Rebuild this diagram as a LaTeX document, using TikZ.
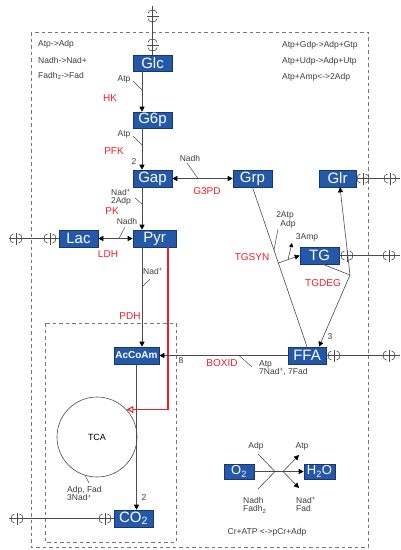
\documentclass[tikz,border=0pt]{standalone}
\usepackage{fontspec}
\setmainfont{Liberation Sans}
\usetikzlibrary{arrows.meta,calc}
\definecolor{boxblue}{RGB}{36,88,168}
\definecolor{boxedge}{RGB}{25,55,110}
\definecolor{lin}{RGB}{75,75,75}
\definecolor{redlab}{RGB}{240,30,45}
\definecolor{txt}{RGB}{60,60,60}
\definecolor{dash}{RGB}{120,120,120}
\begin{document}
\begin{tikzpicture}[x=1pt,y=-1pt,
  box/.style={draw=boxedge, line width=0.6pt, fill=boxblue, text=white, inner sep=0pt,
    minimum height=16pt, font=\fontsize{15}{15}\selectfont},
  sm/.style={text=txt, font=\fontsize{8.5}{8.5}\selectfont, inner sep=0pt},
  enz/.style={text=redlab, font=\fontsize{10}{10}\selectfont, inner sep=0pt},
  conn/.style={draw=lin, line width=0.6pt},
  endarrow/.style={conn, -{Triangle[length=5pt,width=5pt,black]}},
  botharrow/.style={conn, {Triangle[length=5pt,width=5pt,black]}-{Triangle[length=5pt,width=5pt,black]}},
  tick/.style={draw=lin, line width=0.5pt},
  redline/.style={draw=redlab, line width=1.1pt, -{Triangle[open,length=7pt,width=7pt,redlab,fill=white]}},
  dashbox/.style={draw=dash, line width=0.6pt, dash pattern=on 3.5pt off 3pt},
  exch/.pic={
    \draw[draw=lin, line width=0.6pt] (-2.5,-4.5) .. controls (-7,-4.5) and (-7,4.5) .. (-2.5,4.5);
    \draw[draw=lin, line width=0.6pt] (2.5,-4.5) .. controls (7,-4.5) and (7,4.5) .. (2.5,4.5);
    \draw[draw=lin, line width=0.6pt] (0,-6) -- (0,6);
  }
]
\useasboundingbox (0,0) rectangle (400,550);

% frames
\draw[dashbox] (31,32) rectangle (368,547);
\draw[dashbox] (45,323) rectangle (176,542);

% boxes
\node[box, minimum width=39pt] (glc) at (152.5,63) {Glc};
\node[box, minimum width=39pt] (g6p) at (152.5,120) {G6p};
\node[box, minimum width=39pt, minimum height=17pt] (gap) at (152.5,178.5) {Gap};
\node[box, minimum width=43pt, minimum height=17pt] (pyr) at (154.5,238.5) {Pyr};
\node[box, minimum width=39pt, minimum height=17pt] (lac) at (78.5,238.5) {Lac};
\node[box, minimum width=39pt, minimum height=17pt] (grp) at (252.5,178.5) {Grp};
\node[box, minimum width=37pt, minimum height=17pt] (glr) at (337.5,178.5) {Glr};
\node[box, minimum width=39pt, minimum height=17pt] (tg) at (319.5,255.5) {TG};
\node[box, minimum width=38pt, minimum height=17pt] (ffa) at (307,355.5) {FFA};
\node[box, minimum width=45pt, minimum height=17pt, font=\bfseries\fontsize{10}{10}\selectfont] (accoam) at (136.5,355.5) {AcCoAm};
\node[box, minimum width=39pt, minimum height=17pt] (co2) at (133.5,518.5) {CO\textsubscript{2}};
\node[box, minimum width=30pt, minimum height=15pt, font=\fontsize{13}{13}\selectfont] (o2) at (239,471.5) {O\textsubscript{2}};
\node[box, minimum width=31pt, minimum height=15pt, font=\fontsize{13}{13}\selectfont] (h2o) at (319.5,471.5) {H\textsubscript{2}O};

% corner texts
\node[sm, anchor=west] (tl1) at (38,44) {Atp->Adp};
\node[sm, anchor=west] (tl2) at (38,60) {Nadh->Nad+};
\node[sm, anchor=west] (tl3) at (38,76) {Fadh\textsubscript{2}->Fad};
\node[sm, anchor=west] (tr1) at (282,45) {Atp+Gdp->Adp+Gtp};
\node[sm, anchor=west] (tr2) at (282,61) {Atp+Udp->Adp+Utp};
\node[sm, anchor=west] (tr3) at (282,77) {Atp+Amp<->2Adp};

% exchanges
\coordinate (topend) at (152.5,6);
\draw[conn] (topend) -- (glc.north);
\pic[rotate=90] at (152.5,16) {exch};
\pic[rotate=90] at (152.5,45) {exch};

\coordinate (lacend) at (9,238.5);
\draw[conn] (lacend) -- (lac.west);
\pic at (16,238.5) {exch};
\pic at (50,238.5) {exch};

\coordinate (glrend) at (400,178.5);
\draw[conn] (glr.east) -- (glrend);
\pic at (363,178.5) {exch};
\pic at (390,178.5) {exch};

\coordinate (tgend) at (400,255.5);
\draw[conn] (tg.east) -- (tgend);
\pic at (347,255.5) {exch};
\pic at (389,255.5) {exch};

\coordinate (ffaend) at (400,355.5);
\draw[conn] (ffa.east) -- (ffaend);
\pic at (334,355.5) {exch};
\pic at (389,355.5) {exch};

\coordinate (co2end) at (9,518.5);
\draw[conn] (co2end) -- (co2.west);
\pic at (17,518.5) {exch};
\pic at (105,518.5) {exch};

% glycolysis
\coordinate (glcout) at ([xshift=-10.5pt]glc.south);
\draw[endarrow] (glcout) -- (glcout |- g6p.north);
\node[sm] (atp1) at (124,79) {Atp};
\coordinate (hkt) at (142,90);
\draw[tick] (133,81) -- (hkt);
\node[enz] (hk) at (110,98) {HK};

\coordinate (g6pout) at ([xshift=-10.5pt]g6p.south);
\draw[endarrow] (g6pout) -- (g6pout |- gap.north);
\node[sm] (atp2) at (124,134) {Atp};
\coordinate (pfkt) at (142,145);
\draw[tick] (133,136) -- (pfkt);
\node[enz] (pfk) at (114,151) {PFK};
\node[sm] (two1) at (134,162) {2};

\coordinate (gapout) at ([xshift=-10.5pt]gap.south);
\draw[endarrow] (gapout) -- (gapout |- pyr.north);
\node[sm, align=center] (pkin) at (121,197) {Nad\textsuperscript{+}\\[0pt]2Adp};
\coordinate (pkt) at (142,204);
\draw[tick] (135,198) -- (pkt);
\node[enz] (pk) at (112,211) {PK};

% G3PD
\draw[botharrow] (gap.east) -- (grp.west);
\node[sm] (nadh1) at (190,158) {Nadh};
\coordinate (g3t) at (198,178.5);
\draw[tick] (187,163) -- (g3t);
\node[enz] (g3pd) at (207,191) {G3PD};

% LDH
\draw[botharrow] (lac.east) -- (pyr.west);
\node[sm] (nadh2) at (127,221) {Nadh};
\coordinate (ldht) at (119,238.5);
\draw[tick] (125,227) -- (ldht);
\node[enz] (ldh) at (108,254) {LDH};

% PDH
\coordinate (pyrout) at ([xshift=-12.5pt]pyr.south);
\draw[endarrow] (pyrout) -- (pyrout |- accoam.north);
\node[sm] (nad3) at (153,271) {Nad\textsuperscript{+}};
\coordinate (pdht) at (142,287);
\draw[tick] (150,279) -- (pdht);
\node[enz] (pdh) at (130,316) {PDH};

% red PDH line to TCA
\node[draw=lin, line width=0.6pt, circle, minimum size=80pt, inner sep=0pt, font=\fontsize{9}{9}\selectfont] (tca) at (97,437) {TCA};
\draw[redline] ([xshift=13.5pt]pyr.south) |- (tca.43);
\coordinate (tcat) at (89,483);
\draw[tick] (tca.-107) -- (tcat);
\node[sm, align=left, anchor=north west] (tcaout) at (67,486) {Adp, Fad\\[0pt]3Nad\textsuperscript{+}};

% AcCoAm -> CO2
\draw[endarrow] (accoam.south) -- (accoam.south |- co2.north);
\node[sm] (two2) at (144,498) {2};

% BOXID
\draw[endarrow] (ffa.west) -- (accoam.east);
\node[sm] (eight) at (181,361) {8};
\node[enz] (boxid) at (222,363) {BOXID};
\coordinate (boxt) at (239,355.5);
\draw[tick] (boxt) -- (252,367);
\node[sm, align=left, anchor=north west] (boxin) at (259,360) {Atp\\[0pt]7Nad\textsuperscript{+}, 7Fad};

% TGSYN
\draw[conn] (grp.south) -- (ffa.north);
\coordinate (syn) at ($(grp.south)!0.475!(ffa.north)$);
\draw[endarrow] (syn) -- (tg.west);
\coordinate (ampbase) at ($(syn)!0.45!(tg.west)$);
\coordinate (amptip) at (292,243);
\draw[conn, -{Triangle[length=4pt,width=4pt,black]}] (ampbase) -- (amptip);
\node[sm] (amp) at (307,237) {3Amp};
\node[sm, align=center] (synin) at (285,220) {2Atp\\[0pt]\hspace{6pt}Adp};
\coordinate (synt) at ($(grp.south)!0.394!(ffa.north)$);
\draw[tick] (278,229) -- (synt);
\node[enz] (tgsyn) at (252,257) {TGSYN};

% TGDEG
\coordinate (deg) at (350,275);
\draw[conn] ([xshift=3.5pt]tg.south) -- (deg);
\draw[endarrow] (deg) -- ([xshift=2.5pt]glr.south);
\draw[endarrow] (deg) -- ([xshift=12pt]ffa.north);
\node[sm] (three) at (330,337) {3};
\node[enz] (tgdeg) at (323,283) {TGDEG};

% oxidative phosphorylation
\coordinate (oj1) at (275,471.5);
\coordinate (oj2) at (283,471.5);
\draw[conn] (o2.east) -- (oj1) -- (oj2);
\draw[endarrow] (oj2) -- (h2o.west);
\node[sm] (adp) at (256,446) {Adp};
\node[sm] (atp3) at (302,446) {Atp};
\draw[conn] (258,454) -- (oj1);
\draw[conn] (258,489) -- (oj1);
\coordinate (atptip) at (299,455);
\coordinate (nadtip) at (299,488);
\draw[endarrow] (oj2) -- (atptip);
\draw[endarrow] (oj2) -- (nadtip);
\node[sm, align=left, anchor=north west] (nadhin) at (243,497) {Nadh\\[0pt]Fadh\textsubscript{2}};
\node[sm, align=left, anchor=north west] (nadout) at (296,497) {Nad\textsuperscript{+}\\[0pt]Fad};
\node[sm] (cr) at (267,532) {Cr+ATP <->pCr+Adp};
\end{tikzpicture}
\end{document}
